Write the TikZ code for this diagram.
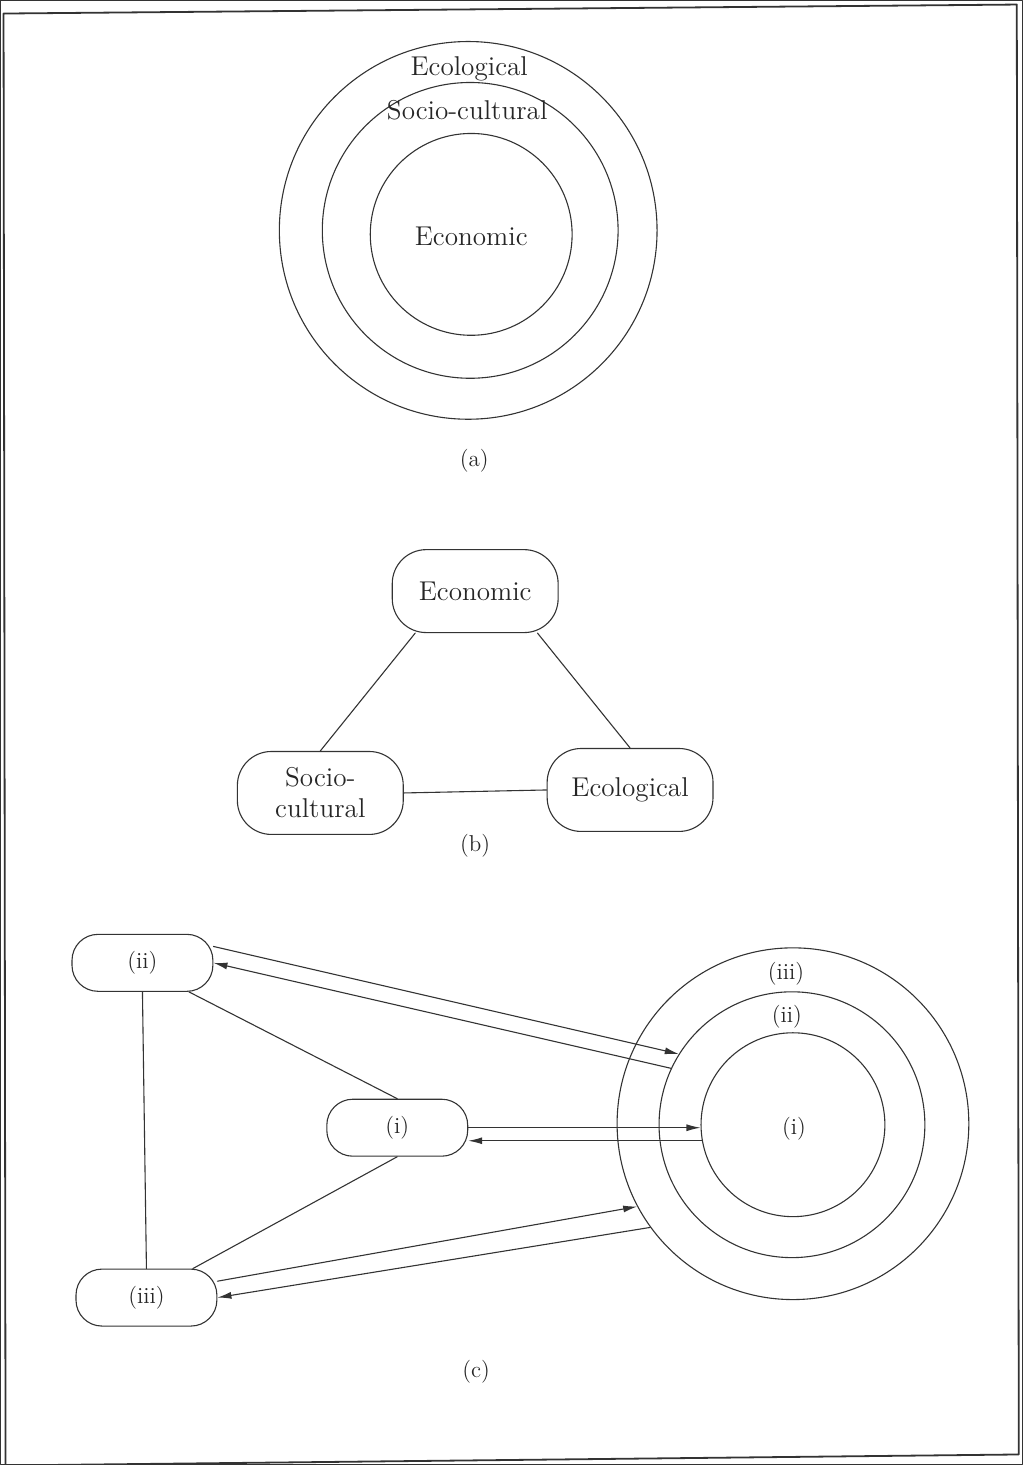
\documentclass[tikz,border=0pt]{standalone}
\usetikzlibrary{arrows.meta}
\newcommand\bigfont{\fontsize{13.6}{15.5}\selectfont}
\newcommand\romfont{\fontsize{11.5}{13}\selectfont}
\begin{document}
\begin{tikzpicture}[line cap=round,line join=round,>={Latex[length=7pt,width=3.5pt]},x=0.5pt,y=-0.5pt,
    every node/.style={inner sep=0pt,text=black!85},
    every path/.style={draw=black!80,line width=0.55pt},
    ring/.style={circle,draw,minimum size=#1},
    pill/.style={draw,rounded corners=17pt,minimum width=83pt,minimum height=41.5pt,align=center,font=\bigfont},
    tag/.style={draw,rounded corners=13pt,minimum width=70.5pt,minimum height=28.5pt,font=\romfont}]
    \useasboundingbox (0,0) rectangle (1023,1465);
    % page frame
    \draw[line width=0.9pt] (3,13) -- (1017,4) -- (1019,1455) -- (5,1466) -- cycle;
    % (a) nested circles
    \node[ring=189pt] (outa) at (468,230) {};
    \node[ring=148pt] (mida) at (470,230) {};
    \node[ring=101pt] (inna) at (471,234) {};
    \node[anchor=base,font=\bigfont] (ecola) at (469,75) {Ecological};
    \node[anchor=base,font=\bigfont] (soca) at (467,119) {Socio-cultural};
    \node[anchor=base,font=\bigfont] (econa) at (471,245) {Economic};
    \node[font=\romfont] (capa) at (474,461) {(a)};
    % (b) triangle
    \node[pill] (econ) at (475,591) {Economic};
    \node[pill] (soc) at (320,793) {Socio-\\cultural};
    \node[pill] (ecol) at (630,790) {Ecological};
    \draw (econ.215) -- (soc.north);
    \draw (econ.-34) -- (ecol.north);
    \draw (soc.east) -- (ecol.west);
    \node[font=\romfont] (capb) at (475,846) {(b)};
    % (c) boxes and rings
    \node[tag] (box2) at (142,963) {(ii)};
    \node[tag] (box1) at (397,1128) {(i)};
    \node[tag] (box3) at (146,1298) {(iii)};
    \node[ring=176pt] (ring3) at (793,1124) {};
    \node[ring=133pt] (ring2) at (792,1125) {};
    \node[ring=92pt] (ring1) at (793,1125) {};
    \node[font=\romfont] (lab3) at (786,974) {(iii)};
    \node[font=\romfont] (lab2) at (787,1017) {(ii)};
    \node[font=\romfont] (lab1) at (794,1129) {(i)};
    \draw (box2.south) -- (box3.north);
    \draw (box2.-32) -- (box1.north);
    \draw (box1.south) -- (box3.32);
    \draw[->] (box2.13) -- (ring2.148);
    \draw[->] (ring2.155) -- (box2.east);
    \draw[->] (box1.east) -- (box1.east -| ring1.west);
    \draw[->] (ring1.190) -- (box1.east |- ring1.190);
    \draw[->] (box3.13) -- (ring3.208);
    \draw[->] (ring3.216) -- (box3.east);
    \node[font=\romfont] (capc) at (476,1372) {(c)};
\end{tikzpicture}
\end{document}
